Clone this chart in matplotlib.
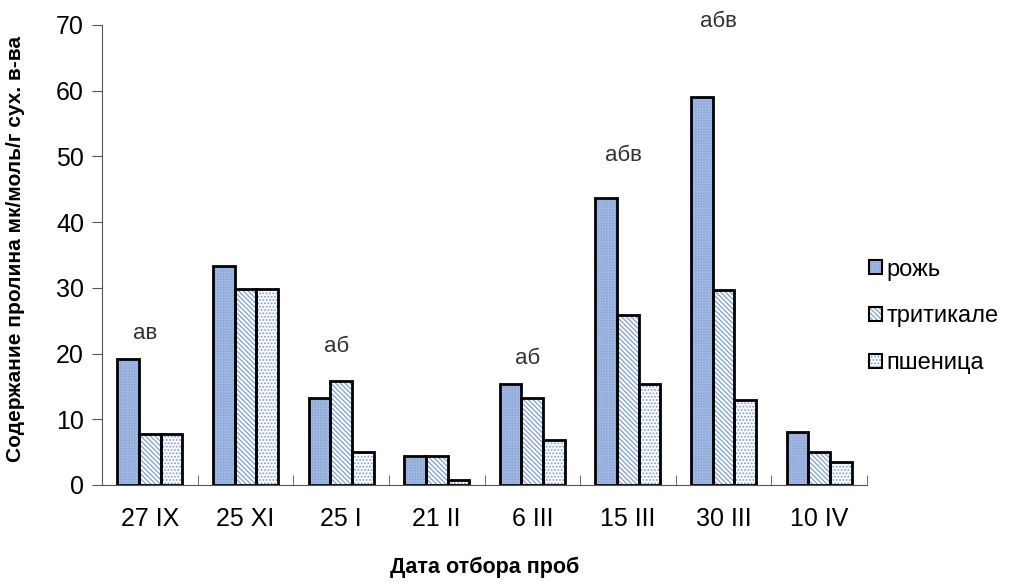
import numpy as np
import matplotlib
matplotlib.use("Agg")
import matplotlib.pyplot as plt
from matplotlib.legend_handler import HandlerTuple

plt.rcParams['font.family'] = ['Liberation Sans', 'DejaVu Sans']
plt.rcParams['hatch.linewidth'] = 0.9

dates = ['27 IX', '25 XI', '25 I', '21 II', '6 III', '15 III', '30 III', '10 IV']
rye = [19.2, 33.3, 13.3, 4.4, 15.3, 43.6, 59.1, 8.0]
triticale = [7.7, 29.8, 15.8, 4.4, 13.2, 25.9, 29.7, 5.0]
wheat = [7.7, 29.8, 5.0, 0.7, 6.8, 15.4, 13.0, 3.5]
series_names = ['рожь', 'тритикале', 'пшеница']

# significance letters above some groups
sig_idx = [0, 2, 4, 5, 6]
sig_text = ['ав', 'аб', 'аб', 'абв', 'абв']
sig_y = [23.1, 21.0, 19.3, 50.2, 70.5]

blue = '#7d9fd8'
fig = plt.figure(figsize=(10.16, 5.86), dpi=100)
ax = fig.add_axes([102/1016, 1-485/586, 765/1016, 460/586])

x = np.arange(len(dates))
w = 0.227
styles = [
    dict(facecolor='#adc2e6', hatch='++++++', hcol='#93acdc'),
    dict(facecolor='white', hatch='\\' * 7, hcol=blue),
    dict(facecolor='white', hatch='.....', hcol=blue),
]
handles = []
for k, vals in enumerate([rye, triticale, wheat]):
    st = styles[k]
    pos = x + (k - 1) * w
    ax.bar(pos, vals, w, facecolor=st['facecolor'], hatch=st['hatch'],
           edgecolor=st['hcol'], linewidth=0, zorder=2)
    ax.bar(pos, vals, w, facecolor='none', edgecolor='black', linewidth=2, zorder=3)
    fill = plt.Rectangle((0, 0), 1, 1, facecolor=st['facecolor'], hatch=st['hatch'],
                         edgecolor=st['hcol'], linewidth=0)
    edge = plt.Rectangle((0, 0), 1, 1, facecolor='none', edgecolor='black', linewidth=1.5)
    handles.append((fill, edge))

for i, t, yy in zip(sig_idx, sig_text, sig_y):
    ax.text(x[i] - 0.05, yy, t, ha='center', va='center', fontsize=16, color='#333333')

ax.set_xlim(-0.5, len(dates) - 0.5)
ax.set_ylim(0, 70)
ax.set_yticks(range(0, 71, 10))
ax.set_xticks(x)
ax.set_xticklabels(dates, fontsize=18)
ax.tick_params(axis='x', length=0, pad=16)
ax.set_xticks(np.arange(0.5, len(dates) - 0.5 + 0.01, 1), minor=True)
ax.tick_params(axis='x', which='minor', direction='in', length=7, color='#555555')
ax.tick_params(axis='y', labelsize=18, length=7, color='#555555', pad=6)
for s in ['top', 'right']:
    ax.spines[s].set_visible(False)
for s in ['left', 'bottom']:
    ax.spines[s].set_color('#555555')

ax.set_ylabel('Содержание пролина мк/моль/г сух. в-ва', fontsize=15,
              fontweight='bold')
ax.yaxis.set_label_coords(-0.100, 0.513)
ax.set_xlabel('Дата отбора проб', fontsize=15.5, fontweight='bold')
ax.xaxis.set_label_coords(0.5, -0.155)

fig.legend(handles, series_names, loc='center left', bbox_to_anchor=(0.834, 0.46),
           frameon=False, fontsize=17, handlelength=0.55, handleheight=0.55,
           handletextpad=0.2, labelspacing=1.05,
           handler_map={tuple: HandlerTuple(ndivide=1, pad=0)})

fig.savefig('out.png', dpi=100)
